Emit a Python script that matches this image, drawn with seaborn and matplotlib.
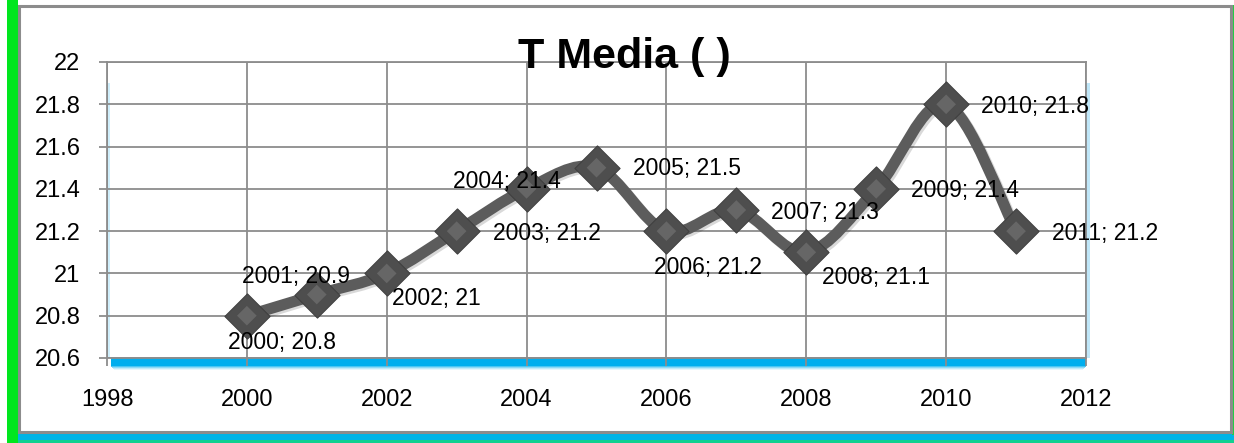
import numpy as np
import pandas as pd
import matplotlib
matplotlib.use("Agg")
import matplotlib.pyplot as plt
import seaborn as sns
from matplotlib.path import Path
from matplotlib.patches import PathPatch, Rectangle
import matplotlib.patheffects as pe

# ---- data ----
years = [2000, 2001, 2002, 2003, 2004, 2005, 2006, 2007, 2008, 2009, 2010, 2011]
tmedia = [20.8, 20.9, 21.0, 21.2, 21.4, 21.5, 21.2, 21.3, 21.1, 21.4, 21.8, 21.2]
title_text = "T Media ( )"
x_ticks = [1998, 2000, 2002, 2004, 2006, 2008, 2010, 2012]
y_ticks = [20.6, 20.8, 21.0, 21.2, 21.4, 21.6, 21.8, 22.0]

# label offsets (pixels) relative to each point (placement style only)
label_dx = [35, -21, 50, 90, -20, 90, 42, 89, 70, 89, 89, 89]
label_dy = [-27, 18, -25, -2, 7, -1, -36, -2, -25, -2, -2, -2]

df = pd.DataFrame({"year": years, "value": tmedia})

sns.set_theme(style="white")
plt.rcParams['font.family'] = ['Liberation Sans', 'DejaVu Sans']

W, H = 1234, 443
fig = plt.figure(figsize=(W / 100, H / 100), dpi=100)
fig.patch.set_facecolor("white")

# ---- outer frame decorations ----
def fig_rect(x0, y0_top, w, h, **kw):
    # x0, y0_top in pixels from top-left; w, h in pixels
    r = Rectangle((x0 / W, (H - y0_top - h) / H), w / W, h / H,
                  transform=fig.transFigure, **kw)
    fig.patches.append(r)
    return r

fig_rect(7, 0, 11, H, facecolor="#00e61e", edgecolor="none", zorder=-3)
fig_rect(18, 432, W - 18, 11, facecolor="#00b4e6", edgecolor="none", zorder=-3)
fig_rect(18, 440, W - 18, 3, facecolor="#10d090", edgecolor="none", zorder=-3)
fig_rect(1231.5, 5, 2.5, 430, facecolor="#20d040", edgecolor="none", zorder=-3)
fig_rect(19.5, 5.5, 1211, 426, facecolor="white", edgecolor="#8c8c8c",
         linewidth=2.2, zorder=-2)

# ---- axes ----
left, right, top, bottom = 107, 1086, 62, 358
ax = fig.add_axes([left / W, (H - bottom) / H, (right - left) / W, (bottom - top) / H])
ax.set_facecolor("none")

ax.set_xlim(x_ticks[0], x_ticks[-1])
ax.set_ylim(y_ticks[0], y_ticks[-1])
ax.set_xticks(x_ticks)
ax.set_yticks(y_ticks)
ax.set_xticklabels([str(v) for v in x_ticks])
ax.set_yticklabels([f"{v:g}" for v in y_ticks])

grid_c = "#8c8c8c"
ax.grid(True, color=grid_c, linewidth=1.3)
for s in ax.spines.values():
    s.set_color(grid_c)
    s.set_linewidth(1.3)
ax.tick_params(axis="both", which="both", direction="out", length=6, width=1.3,
               color=grid_c, labelsize=17, labelcolor="black")
ax.tick_params(axis="y", pad=13)
ax.tick_params(axis="x", pad=16)
ax.tick_params(left=True, bottom=True)

# plot-area glow (blue shadow at bottom/right/left)
ph = bottom - top
ax.add_patch(Rectangle((0.004, -8 / ph), 0.996, 8 / ph, transform=ax.transAxes,
                       facecolor="#00aeee", edgecolor="none", clip_on=False, zorder=0.2))
for i, a in enumerate([0.7, 0.45, 0.25, 0.1]):
    ax.add_patch(Rectangle((0.004 + 0.001 * i, -(9 + i) / ph), 0.996 - 0.002 * i, 1 / ph,
                           transform=ax.transAxes, facecolor="#00aeee", alpha=a,
                           edgecolor="none", clip_on=False, zorder=0.2))
ax.add_patch(Rectangle((1.0, 0.0), 4 / (right - left), 0.93, transform=ax.transAxes,
                       facecolor="#bfe6f8", edgecolor="none", clip_on=False, zorder=0.2))
ax.add_patch(Rectangle((0.0, 0.0), 3 / (right - left), 0.93, transform=ax.transAxes,
                       facecolor="#cfeefb", edgecolor="none", clip_on=False, zorder=0.2))

# ---- smooth line (Catmull-Rom style bezier through the data points) ----
P = np.column_stack([df["year"].to_numpy(float), df["value"].to_numpy(float)])
n = len(P)
verts = [P[0]]
codes = [Path.MOVETO]
for i in range(n - 1):
    p0 = P[i - 1] if i > 0 else P[i]
    p1 = P[i]
    p2 = P[i + 1]
    p3 = P[i + 2] if i + 2 < n else P[i + 1]
    c1 = p1 + (p2 - p0) / 6.0
    c2 = p2 - (p3 - p1) / 6.0
    verts += [c1, c2, p2]
    codes += [Path.CURVE4] * 3
path = Path(verts, codes)
ax.add_patch(PathPatch(path, facecolor="none", edgecolor="#5c5c5c", linewidth=8,
                       capstyle="round", joinstyle="round", zorder=3,
                       path_effects=[pe.SimpleLineShadow(offset=(1.5, -1.5), shadow_color="#000000", alpha=0.15),
                                     pe.Normal()]))

# ---- markers ----
sns.scatterplot(data=df, x="year", y="value", marker="D", s=23 ** 2,
                color="#4e4e4e", edgecolor="#404040", linewidth=0.8, zorder=4, ax=ax,
                legend=False)
# inner lighter facet to suggest bevel
sns.scatterplot(data=df, x="year", y="value", marker="D", s=10 ** 2,
                color="#666666", edgecolor="none", linewidth=0, zorder=5, ax=ax,
                legend=False)
ax.set_xlabel("")
ax.set_ylabel("")

# ---- data labels ----
for x, y, dx, dy in zip(years, tmedia, label_dx, label_dy):
    ax.annotate(f"{x}; {y:g}", xy=(x, y), xytext=(dx, dy), textcoords="offset pixels",
                ha="center", va="center", fontsize=16.5, color="black", zorder=6,
                annotation_clip=False)

# ---- title ----
fig.text(624 / W, (H - 57) / H, title_text, ha="center", va="center",
         fontsize=31, fontweight="bold", color="black", zorder=1)

fig.savefig("out.png", dpi=100, facecolor=fig.get_facecolor())
